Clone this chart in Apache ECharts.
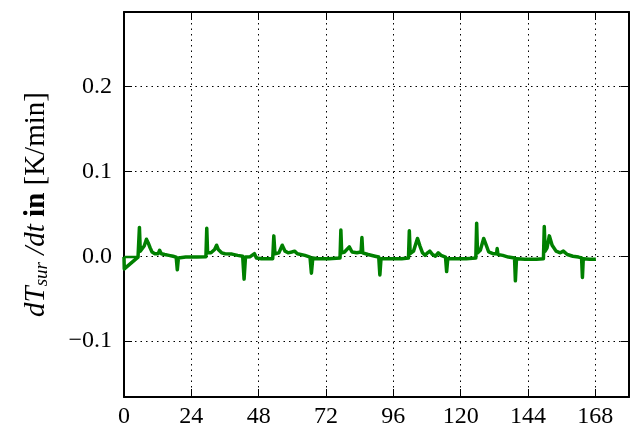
<!DOCTYPE html>
<html>
<head>
<meta charset="utf-8">
<script src="https://cdn.jsdelivr.net/npm/echarts@6/dist/echarts.min.js"></script>
<style>
  html, body { margin: 0; padding: 0; background: #ffffff; }
  #chart { width: 643px; height: 432px; }
</style>
</head>
<body>
<div id="chart"></div>
<script>
// Time axis in hours, one week of surface temperature rate of change
const hourTicks = [0, 24, 48, 72, 96, 120, 144, 168];
const rateTicks = [-0.1, 0.0, 0.1, 0.2];
const rateTickLabels = ['\u22120.1', '0.0', '0.1', '0.2'];

// Startup transient at t = 0
const startupSegment = [
  [0, -0.001], [5.0, -0.001]
];

// dT_sur/dt in K/min over time in hours
const hours = [
  0, 0.1, 5.0, 5.3, 5.5, 5.8, 6.5, 7.2, 8.0, 8.6, 9.3, 10.0, 11.0, 12.2, 12.7, 13.3, 14.5, 16, 17.5, 18.6, 19.0, 19.4,
  22, 26, 29.2, 29.5, 29.8, 31, 32.3, 33.0, 33.6, 34.8, 36, 38.5, 40.5, 42.3, 42.8, 43.3,
  45, 46.5, 47.2, 49, 53, 53.4, 53.8, 55.2, 56.4, 57.4, 58.5, 59.8, 60.8, 61.8, 64.5, 66.3, 66.8, 67.3,
  69, 73, 77, 77.3, 77.6, 78.6, 80.3, 81.3, 83.0, 84.5, 84.8, 85.1, 87, 89.5, 90.8, 91.2, 91.6,
  95, 99, 101.4, 101.7, 102.0, 103.2, 104.6, 105.5, 106.4, 107.3, 108.2, 109, 110, 111, 112, 113, 114.6, 115.0, 115.4,
  118, 122, 125.4, 125.7, 126.0, 127.0, 128.2, 129, 130, 131.5, 132.8, 133.0, 133.3, 135, 137, 139.2, 139.5, 139.9,
  143, 147, 149.5, 149.8, 150.1, 150.8, 151.6, 152.6, 154, 155.5, 156.6, 158, 160, 162, 163.1, 163.4, 163.7,
  166, 168.2
];
const rates = [
  -0.001, -0.015, -0.001, 0.0, 0.034, 0.006, 0.005, 0.012, 0.020, 0.016, 0.010, 0.005, 0.003, 0.003, 0.007, 0.003, 0.002, 0.001, 0.0, -0.001, -0.016, -0.002,
  -0.001, -0.001, -0.0005, 0.033, 0.004, 0.004, 0.008, 0.013, 0.008, 0.004, 0.003, 0.0025, 0.001, 0.0, -0.027, -0.001,
  -0.0005, 0.003, -0.002, -0.003, -0.003, 0.024, 0.003, 0.004, 0.013, 0.006, 0.004, 0.005, 0.006, 0.003, 0.001, -0.001, -0.020, -0.002,
  -0.003, -0.003, -0.002, 0.031, 0.004, 0.005, 0.011, 0.005, 0.004, 0.005, 0.022, 0.004, 0.002, 0.0, -0.001, -0.022, -0.003,
  -0.003, -0.003, -0.002, 0.030, 0.003, 0.006, 0.021, 0.012, 0.004, 0.001, 0.004, 0.006, 0.002, 0.0, 0.004, 0.001, -0.001, -0.018, -0.003,
  -0.003, -0.003, -0.002, 0.039, 0.004, 0.007, 0.021, 0.014, 0.005, 0.003, 0.003, 0.009, 0.002, 0.001, -0.001, -0.002, -0.029, -0.003,
  -0.0035, -0.0035, -0.003, 0.035, 0.006, 0.010, 0.024, 0.013, 0.006, 0.004, 0.006, 0.002, 0.0, -0.001, -0.002, -0.025, -0.003,
  -0.0035, -0.0035
];

const seriesData = hours.map((h, i) => [h, rates[i]]);

const FONT = '"Liberation Serif", "DejaVu Serif", serif';
const GREEN = '#008000';
const dotted = { color: '#000000', width: 1, type: [1.5, 4] };

const chart = echarts.init(document.getElementById('chart'), null, { renderer: 'canvas' });

chart.setOption({
  animation: false,
  backgroundColor: '#ffffff',
  grid: { left: 124, right: 14, top: 12, bottom: 35, containLabel: false },
  xAxis: [
    {
      type: 'value', position: 'bottom', min: 0, max: 180,
      axisLine: { show: true, onZero: false, lineStyle: { color: '#000', width: 2 } },
      axisTick: { show: true, inside: true, length: 8, customValues: hourTicks, lineStyle: { color: '#000', width: 1 } },
      axisLabel: { show: true, customValues: hourTicks, margin: 8, color: '#000', fontFamily: FONT, fontSize: 24 },
      splitLine: { show: true, lineStyle: dotted }
    },
    {
      type: 'value', position: 'top', min: 0, max: 180,
      axisLine: { show: true, onZero: false, lineStyle: { color: '#000', width: 2 } },
      axisTick: { show: true, inside: true, length: 8, customValues: hourTicks, lineStyle: { color: '#000', width: 1 } },
      axisLabel: { show: false },
      splitLine: { show: false }
    }
  ],
  yAxis: [
    {
      type: 'value', position: 'left', min: -0.166, max: 0.288,
      name: '{it|dT}{sub|sur}{it| /dt }{b|in} {rm|[K/min]}',
      nameLocation: 'middle', nameGap: 73, nameRotate: 90,
      nameTextStyle: {
        color: '#000', fontFamily: FONT, fontSize: 29,
        rich: {
          it: { fontStyle: 'italic', fontFamily: FONT, fontSize: 29, color: '#000', verticalAlign: 'bottom', lineHeight: 32 },
          sub: { fontStyle: 'italic', fontFamily: FONT, fontSize: 19, color: '#000', verticalAlign: 'bottom', lineHeight: 25 },
          b: { fontWeight: 'bold', fontFamily: FONT, fontSize: 29, color: '#000', verticalAlign: 'bottom', lineHeight: 32 },
          rm: { fontFamily: FONT, fontSize: 29, color: '#000', verticalAlign: 'bottom', lineHeight: 32 }
        }
      },
      axisLine: { show: true, onZero: false, lineStyle: { color: '#000', width: 2 } },
      axisTick: { show: true, inside: true, length: 8, customValues: rateTicks, lineStyle: { color: '#000', width: 1 } },
      axisLabel: {
        show: true, customValues: rateTicks, margin: 12, color: '#000', fontFamily: FONT, fontSize: 24,
        formatter: (v) => rateTickLabels[rateTicks.findIndex(t => Math.abs(t - v) < 1e-9)]
      },
      splitLine: { show: true, lineStyle: dotted }
    },
    {
      type: 'value', position: 'right', min: -0.166, max: 0.288,
      axisLine: { show: true, onZero: false, lineStyle: { color: '#000', width: 2 } },
      axisTick: { show: true, inside: true, length: 8, customValues: rateTicks, lineStyle: { color: '#000', width: 1 } },
      axisLabel: { show: false },
      splitLine: { show: false }
    }
  ],
  series: [
    {
      type: 'line', xAxisIndex: 0, yAxisIndex: 0, data: startupSegment,
      showSymbol: false, lineStyle: { color: GREEN, width: 2.5 }, z: 3
    },
    {
      type: 'line', xAxisIndex: 0, yAxisIndex: 0, data: seriesData,
      showSymbol: false, lineStyle: { color: GREEN, width: 3.5, join: 'round' }, z: 3
    }
  ]
});
</script>
</body>
</html>
